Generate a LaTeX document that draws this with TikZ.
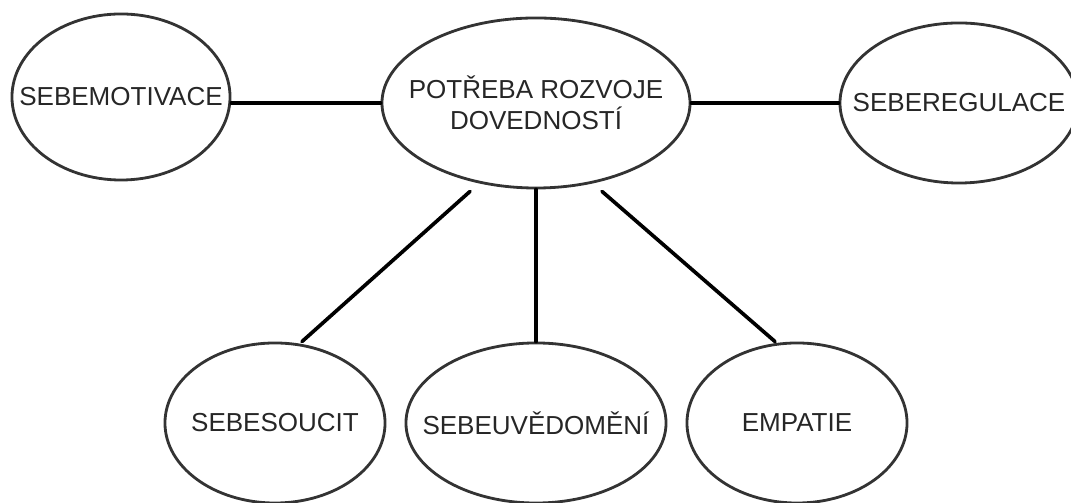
\documentclass[tikz,border=0pt]{standalone}
\usepackage{fontspec}
\setmainfont{Liberation Sans}
\usetikzlibrary{shapes.geometric,calc}
\tikzset{
  every picture/.style={line join=round, line cap=round},
  bubble/.style={ellipse, draw=black!80, line width=2pt, inner sep=0pt},
  txt/.style={align=center, text=black!85, inner sep=0pt, font=\fontsize{18.5}{22}\selectfont},
  link/.style={line width=2.6pt, black},
}
\begin{document}
\begin{tikzpicture}[x=0.025cm,y=0.025cm]
\useasboundingbox (0,0) rectangle (1071,503);
\clip (0,0) rectangle (1071,503);
% top row
\node[bubble,minimum width=5.45cm,minimum height=4.15cm,label={[txt]center:SEBEMOTIVACE}] (sebemotivace) at (121,406) {};
\node[bubble,minimum width=7.7cm,minimum height=4.25cm,label={[txt]center:{POTŘEBA ROZVOJE\\DOVEDNOSTÍ}}] (potreba) at (536,400) {};
\node[bubble,minimum width=5.95cm,minimum height=4cm,label={[txt]center:SEBEREGULACE}] (seberegulace) at (959,400) {};
% bottom row
\node[bubble,minimum width=5.5cm,minimum height=4cm,label={[txt]center:SEBESOUCIT}] (sebesoucit) at (275,80) {};
\node[bubble,minimum width=6.5cm,minimum height=4cm,label={[txt]center:SEBEUVĚDOMĚNÍ}] (sebeuvedomeni) at (536,80) {};
\node[bubble,minimum width=5.5cm,minimum height=4cm,label={[txt]center:EMPATIE}] (empatie) at (797,80) {};
% connectors
\draw[link] (potreba.west) -- (potreba.west -| sebemotivace.east);
\draw[link] (potreba.east) -- (seberegulace.west);
\draw[link] ($(potreba.south)+(-66,-2)$) -- ($(sebesoucit.north)+(27,0)$);
\draw[link] (potreba.south) -- (sebeuvedomeni.north);
\draw[link] ($(potreba.south)+(66,-2)$) -- ($(empatie.north)+(-22,0)$);
\end{tikzpicture}
\end{document}
